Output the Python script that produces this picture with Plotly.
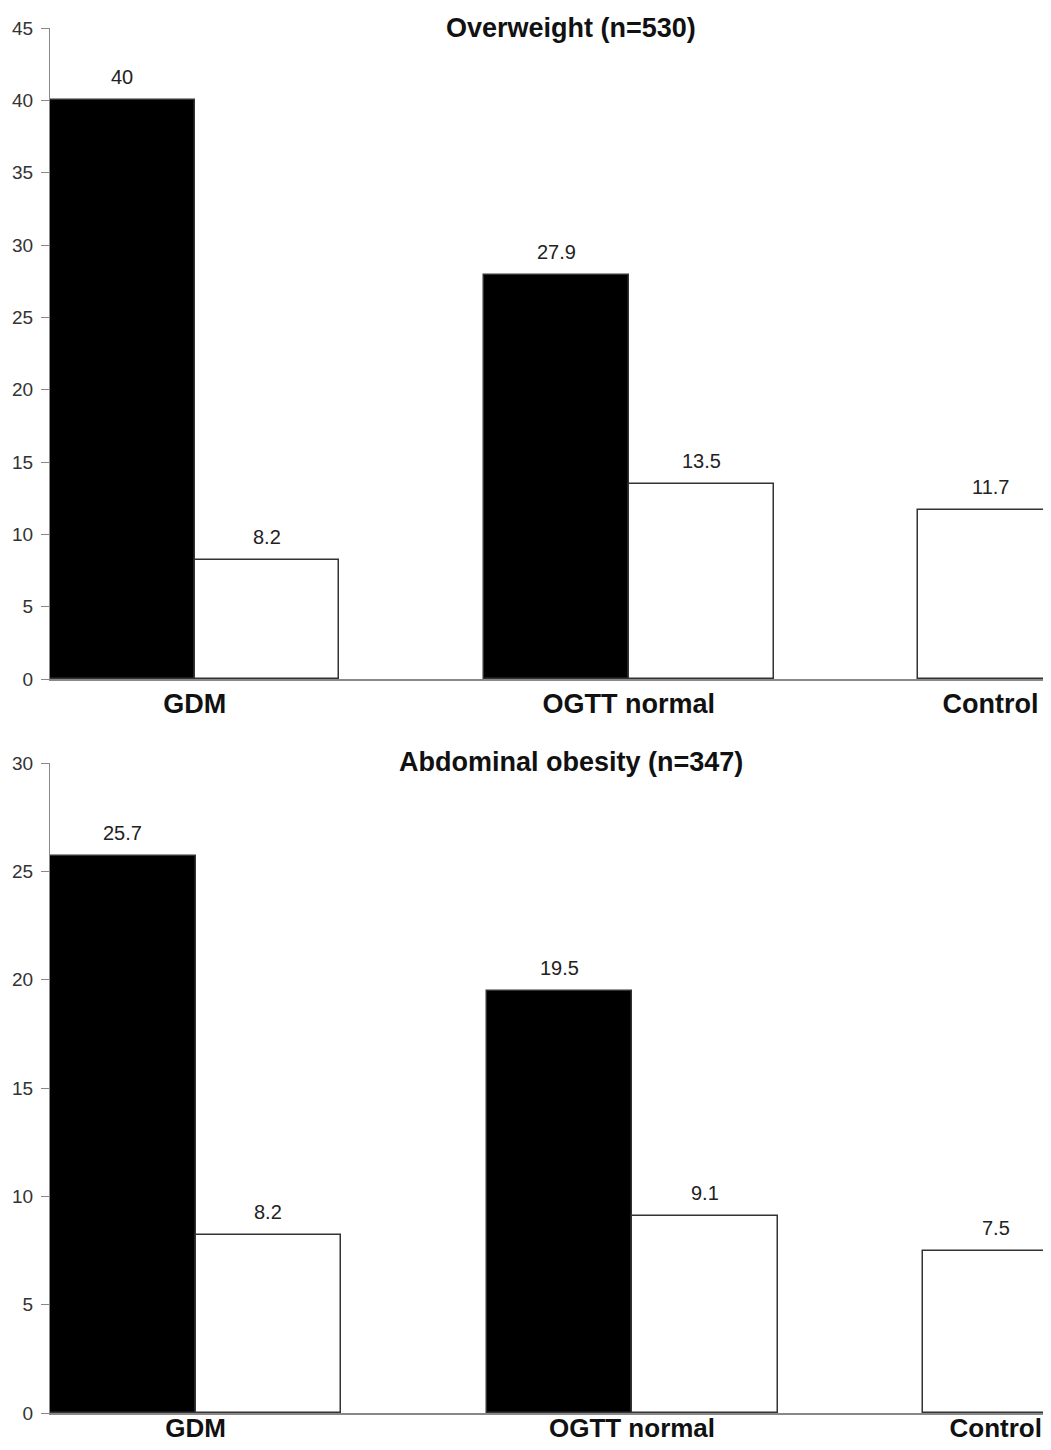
import plotly.graph_objects as go

# ---- data ----
categories = ["GDM", "OGTT normal", "Control"]
panel_titles = ["Overweight (n=530)", "Abdominal obesity (n=347)"]
over_black = [40, 27.9, None]
over_white = [8.2, 13.5, 11.7]
abd_black = [25.7, 19.5, None]
abd_white = [8.2, 9.1, 7.5]
over_ticks = [0, 5, 10, 15, 20, 25, 30, 35, 40, 45]
abd_ticks = [0, 5, 10, 15, 20, 25, 30]

# page has an 8px body margin; size figure to fit the 1051x1450 window
W, H = 1035, 1434
OFF = 8
FONT = "Liberation Sans, Arial, Helvetica, sans-serif"

def fy(page_y):
    return 1 - (page_y - OFF) / H

def fx(page_x):
    return (page_x - OFF) / W

# slot layout: black bar, white bar, gap per group; control has only white bar
def slot_positions(black, white):
    bx, by, wx, wy = [], [], [], []
    slot = 0
    for b, w in zip(black, white):
        if b is not None:
            bx.append(slot + 0.5); by.append(b); slot += 1
        wx.append(slot + 0.5); wy.append(w); slot += 1
        slot += 1
    return bx, by, wx, wy

def label_positions(black):
    pos = []
    slot = 0
    for b in black:
        if b is not None:
            pos.append(slot + 1.0); slot += 3
        else:
            pos.append(slot + 0.5); slot += 2
    return pos

fig = go.Figure()
panels = [
    (over_black, over_white, over_ticks, "x", "y", [fy(679), fy(28)], (1043 - 50) / 144.7, panel_titles[0], 28, 0, 27),
    (abd_black, abd_white, abd_ticks, "x2", "y2", [fy(1413), fy(763)], (1043 - 50) / 145.5, panel_titles[1], 762, -9, 26),
]

annotations = []
for i, (blk, wht, ticks, xa, ya, dom, xmax, title, ty, standoff, catsize) in enumerate(panels):
    bx, by, wx, wy = slot_positions(blk, wht)
    fig.add_trace(go.Bar(x=bx, y=by, xaxis=xa, yaxis=ya, width=1.0,
                         marker=dict(color="black", line=dict(color="#333", width=1.5)),
                         showlegend=False))
    fig.add_trace(go.Bar(x=wx, y=wy, xaxis=xa, yaxis=ya, width=1.0,
                         marker=dict(color="white", line=dict(color="#333", width=1.5)),
                         showlegend=False))
    for x, y in list(zip(bx, by)) + list(zip(wx, wy)):
        annotations.append(dict(x=x, y=y, xref=xa, yref=ya, text=str(y), showarrow=False,
                                yanchor="bottom", yshift=10,
                                font=dict(family=FONT, size=20, color="#222")))
    suffix = "" if i == 0 else "2"
    fig.update_layout(**{
        "xaxis" + suffix: dict(domain=[fx(50), 1.0], range=[0, xmax], anchor=ya,
                               tickmode="array", tickvals=label_positions(blk),
                               ticktext=["<b>%s</b>" % c for c in categories],
                               showline=True, linecolor="#888", linewidth=1.5, ticks="",
                               ticklabelstandoff=standoff, ticklabeloverflow="allow",
                               showgrid=False, zeroline=False, automargin=False,
                               tickfont=dict(family=FONT, size=catsize, color="#111"),
                               fixedrange=True),
        "yaxis" + suffix: dict(domain=dom, range=[0, ticks[-1]], anchor=xa,
                               tickmode="array", tickvals=ticks,
                               showline=True, linecolor="#888", linewidth=1.2,
                               ticks="outside", ticklen=8, tickcolor="#888",
                               ticklabelstandoff=4,
                               showgrid=False, zeroline=False, automargin=False,
                               tickfont=dict(family=FONT, size=19, color="#333")),
    })
    annotations.append(dict(x=fx(571), y=fy(ty), xref="paper", yref="paper", text="<b>%s</b>" % title,
                            showarrow=False, yanchor="middle", xanchor="center",
                            font=dict(family=FONT, size=27, color="#111")))

fig.update_layout(width=W, height=H, margin=dict(l=0, r=0, t=0, b=0),
                  plot_bgcolor="white", paper_bgcolor="white",
                  barmode="overlay", annotations=annotations, bargap=0)
fig.write_html("out.html")
